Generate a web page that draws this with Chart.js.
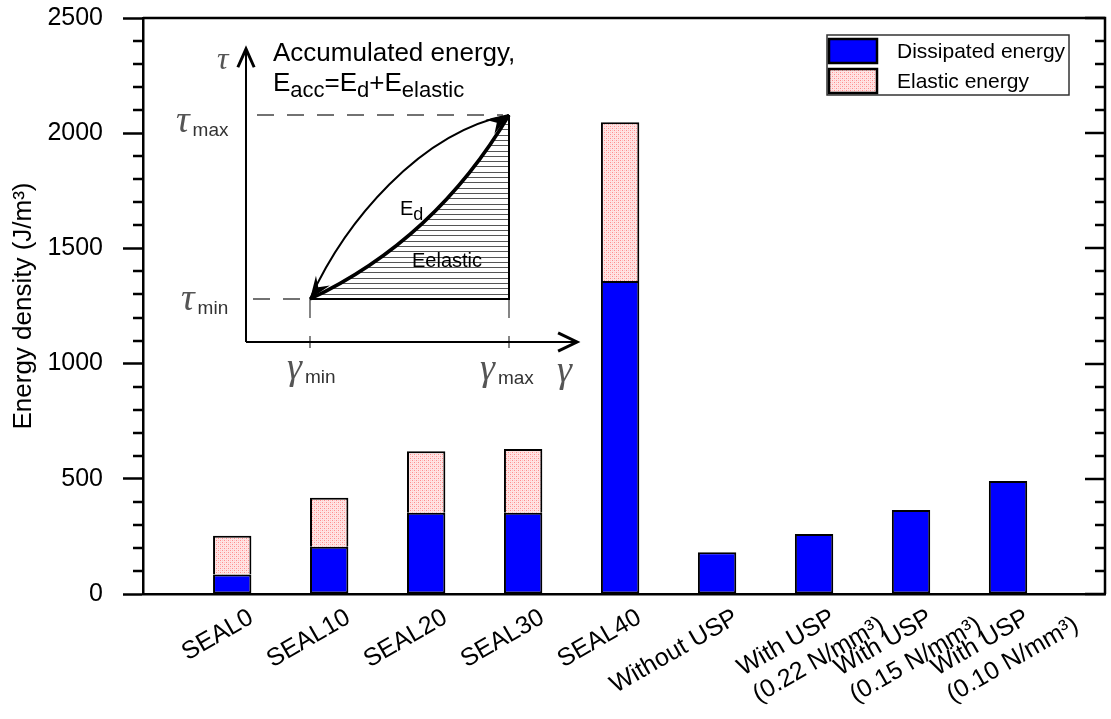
<!DOCTYPE html>
<html>
<head>
<meta charset="utf-8">
<title>Energy density</title>
<script src="https://cdn.jsdelivr.net/npm/chart.js@4/dist/chart.umd.min.js"></script>
<style>
  html, body { margin: 0; padding: 0; background: #fff; }
  #wrap { width: 1111px; height: 719px; }
</style>
</head>
<body>
<div id="wrap"><canvas id="chart" width="1111" height="719"></canvas></div>
<script>
// ---- data ----
const categories = [
  ['SEAL0'], ['SEAL10'], ['SEAL20'], ['SEAL30'], ['SEAL40'],
  ['Without USP'],
  ['With USP', '(0.22 N/mm³)'],
  ['With USP', '(0.15 N/mm³)'],
  ['With USP', '(0.10 N/mm³)']
];
const seriesNames = ['Dissipated energy', 'Elastic energy'];
const dissipated = [85, 205, 353, 353, 1358, 181, 260, 365, 490];
const elastic    = [168, 213, 267, 276, 689, null, null, null, null];
const yTicks = [0, 500, 1000, 1500, 2000, 2500];
const yMinorStep = 100;
const yTitle = 'Energy density (J/m³)';

// ---- styling ----
const FONT = "'Liberation Sans', Arial, Helvetica, sans-serif";
const GREEK = "'Liberation Serif', 'DejaVu Serif', serif";
const AXIS_W = 2.5;

function dotPattern() {
  const c = document.createElement('canvas');
  c.width = 4; c.height = 4;
  const g = c.getContext('2d');
  g.fillStyle = '#ffe4e4'; g.fillRect(0, 0, 4, 4);
  g.fillStyle = '#ff8c8c'; g.fillRect(0, 0, 1, 1); g.fillRect(2, 2, 1, 1);
  g.fillStyle = '#ffc2c2'; g.fillRect(2, 0, 1, 1); g.fillRect(0, 2, 1, 1);
  return g.createPattern(c, 'repeat');
}

const barStyle = {
  borderColor: '#000',
  borderWidth: 2,
  barPercentage: 0.43,
  categoryPercentage: 1
};

// ---- frame: top/right edges, minor ticks, mirrored ticks ----
const framePlugin = {
  id: 'frame',
  afterDraw(chart) {
    const { ctx, chartArea: a, scales: { y } } = chart;
    ctx.save();
    ctx.strokeStyle = '#000';
    ctx.lineWidth = AXIS_W;
    ctx.beginPath();
    ctx.moveTo(a.left, a.top); ctx.lineTo(a.right, a.top); ctx.lineTo(a.right, a.bottom);
    ctx.stroke();
    const major = new Set(yTicks);
    for (let v = y.min; v <= y.max; v += yMinorStep) {
      const py = Math.round(y.getPixelForValue(v));
      const isMajor = major.has(v);
      ctx.beginPath();
      if (!isMajor) { ctx.moveTo(a.left - 10, py); ctx.lineTo(a.left, py); }
      ctx.moveTo(a.right - (isMajor ? 20 : 10), py); ctx.lineTo(a.right, py);
      ctx.stroke();
    }
    ctx.restore();
  }
};

// ---- rotated category labels (lines left-aligned) ----
const categoryLabels = {
  id: 'categoryLabels',
  afterDraw(chart) {
    const { ctx, chartArea: a, scales: { x } } = chart;
    ctx.save();
    ctx.fillStyle = '#000';
    ctx.font = '25px ' + FONT;
    ctx.textAlign = 'left';
    ctx.textBaseline = 'top';
    categories.forEach((lines, i) => {
      const px = x.getPixelForValue(i + 1);
      ctx.save();
      ctx.translate(px + 13, a.bottom + 11);
      ctx.rotate(-30 * Math.PI / 180);
      const w1 = ctx.measureText(lines[0]).width;
      lines.forEach((t, j) => ctx.fillText(t, -w1, j * 31));
      ctx.restore();
    });
    ctx.restore();
  }
};

// ---- legend box ----
const legendPlugin = {
  id: 'boxLegend',
  afterDraw(chart) {
    const { ctx } = chart;
    const bx = 827, by = 35, bw = 242, bh = 60;
    ctx.save();
    ctx.fillStyle = '#fff';
    ctx.fillRect(bx, by, bw, bh);
    ctx.strokeStyle = '#333';
    ctx.lineWidth = 1.5;
    ctx.strokeRect(bx, by, bw, bh);
    chart.data.datasets.forEach((ds, i) => {
      const sy = by + 4 + i * 30;
      ctx.fillStyle = ds.backgroundColor;
      ctx.fillRect(bx + 2, sy, 48, 24);
      ctx.strokeStyle = '#000';
      ctx.lineWidth = 2.5;
      ctx.strokeRect(bx + 2, sy, 48, 24);
      ctx.fillStyle = '#000';
      ctx.font = '21px ' + FONT;
      ctx.textAlign = 'left';
      ctx.textBaseline = 'middle';
      ctx.fillText(ds.label, bx + 70, sy + 13);
    });
    ctx.restore();
  }
};

// ---- inset schematic of a loading/unloading loop ----
function textRuns(ctx, x, y, parts) {
  for (const [t, size, dy, fam] of parts) {
    ctx.font = size + 'px ' + (fam || FONT);
    ctx.fillText(t, x, y + dy);
    x += ctx.measureText(t).width;
  }
  return x;
}
function greekWithSub(ctx, x, y, g, sub) {
  ctx.fillStyle = '#555';
  ctx.font = 'italic 38px ' + GREEK;
  ctx.fillText(g, x, y);
  const w = ctx.measureText(g).width;
  ctx.fillStyle = '#333';
  ctx.font = '19px ' + FONT;
  ctx.fillText(sub, x + w + 3, y + 4);
}
function chevron(ctx, tx, ty, ang, len, half) {
  ctx.beginPath();
  ctx.moveTo(tx - len * Math.cos(ang - half), ty - len * Math.sin(ang - half));
  ctx.lineTo(tx, ty);
  ctx.lineTo(tx - len * Math.cos(ang + half), ty - len * Math.sin(ang + half));
  ctx.stroke();
}
function headFilled(ctx, tx, ty, ang, len, half) {
  ctx.beginPath();
  ctx.moveTo(tx, ty);
  ctx.lineTo(tx - len * Math.cos(ang - half), ty - len * Math.sin(ang - half));
  ctx.lineTo(tx - len * 0.6 * Math.cos(ang), ty - len * 0.6 * Math.sin(ang));
  ctx.lineTo(tx - len * Math.cos(ang + half), ty - len * Math.sin(ang + half));
  ctx.closePath();
  ctx.fill();
}

const insetPlugin = {
  id: 'inset',
  afterDraw(chart) {
    const ctx = chart.ctx;
    const O = { x: 246, y: 342 };          // inset origin
    const A = { x: 310, y: 299 };          // (γmin, τmin)
    const B = { x: 509, y: 115 };          // (γmax, τmax)
    const low = { x: 435, y: 240 };        // loading branch control
    const up1 = { x: 345, y: 222 }, up2 = { x: 420, y: 132 }; // unloading branch controls
    ctx.save();

    // hatched elastic area
    ctx.save();
    ctx.beginPath();
    ctx.moveTo(A.x, A.y);
    ctx.quadraticCurveTo(low.x, low.y, B.x, B.y);
    ctx.lineTo(B.x, A.y);
    ctx.closePath();
    ctx.clip();
    ctx.strokeStyle = '#555';
    ctx.lineWidth = 1;
    for (let yy = A.y - 5.3; yy > B.y; yy -= 5.3) {
      ctx.beginPath(); ctx.moveTo(A.x, Math.round(yy) + 0.5); ctx.lineTo(B.x, Math.round(yy) + 0.5); ctx.stroke();
    }
    ctx.restore();

    // dashed guides
    ctx.strokeStyle = '#444';
    ctx.lineWidth = 1.3;
    ctx.setLineDash([17, 13]);
    ctx.beginPath(); ctx.moveTo(257, B.y); ctx.lineTo(B.x - 6, B.y); ctx.stroke();
    ctx.beginPath(); ctx.moveTo(253, A.y); ctx.lineTo(A.x, A.y); ctx.stroke();
    ctx.setLineDash([19, 18]);
    ctx.beginPath(); ctx.moveTo(A.x, A.y); ctx.lineTo(A.x, O.y + 6); ctx.stroke();
    ctx.beginPath(); ctx.moveTo(B.x, A.y); ctx.lineTo(B.x, O.y + 6); ctx.stroke();
    ctx.setLineDash([]);

    // area edges
    ctx.strokeStyle = '#000';
    ctx.lineWidth = 2;
    ctx.beginPath(); ctx.moveTo(A.x, A.y); ctx.lineTo(B.x, A.y); ctx.lineTo(B.x, B.y); ctx.stroke();

    // loading branch (thick) and unloading branch
    ctx.lineWidth = 3.5;
    ctx.beginPath(); ctx.moveTo(A.x, A.y); ctx.quadraticCurveTo(low.x, low.y, B.x, B.y); ctx.stroke();
    ctx.lineWidth = 2;
    ctx.beginPath(); ctx.moveTo(B.x, B.y); ctx.bezierCurveTo(up2.x, up2.y, up1.x, up1.y, A.x, A.y); ctx.stroke();
    ctx.fillStyle = '#000';
    headFilled(ctx, B.x, B.y, -32 * Math.PI / 180, 24, 0.36);
    headFilled(ctx, A.x, A.y, 125 * Math.PI / 180, 24, 0.36);

    // axes with open arrowheads
    ctx.lineWidth = 2;
    ctx.beginPath(); ctx.moveTo(O.x, O.y); ctx.lineTo(O.x, 50); ctx.stroke();
    ctx.beginPath(); ctx.moveTo(O.x, O.y); ctx.lineTo(576, O.y); ctx.stroke();
    ctx.lineWidth = 3;
    chevron(ctx, O.x, 49, -Math.PI / 2, 20, 0.42);
    chevron(ctx, 577, O.y, 0, 21, 0.45);

    // text
    ctx.fillStyle = '#000';
    ctx.textAlign = 'left';
    ctx.textBaseline = 'alphabetic';
    textRuns(ctx, 273, 61, [['Accumulated energy,', 26, 0]]);
    textRuns(ctx, 273, 91, [['E', 26, 0], ['acc', 22, 6], ['=E', 26, 0], ['d', 22, 6], ['+E', 26, 0], ['elastic', 22, 6]]);
    textRuns(ctx, 400, 215, [['E', 20, 0], ['d', 18, 5]]);
    textRuns(ctx, 412, 267, [['Eelastic', 20, 0]]);

    greekWithSub(ctx, 176, 132, 'τ', 'max');
    greekWithSub(ctx, 181, 310, 'τ', 'min');
    greekWithSub(ctx, 287, 379, 'γ', 'min');
    greekWithSub(ctx, 480, 380, 'γ', 'max');
    ctx.fillStyle = '#555';
    ctx.font = 'italic 38px ' + GREEK;
    ctx.fillText('γ', 557, 382);
    ctx.font = 'italic 32px ' + GREEK;
    ctx.fillText('τ', 217, 69);
    ctx.restore();
  }
};

// ---- chart ----
const pink = dotPattern();
new Chart(document.getElementById('chart'), {
  type: 'bar',
  data: {
    datasets: [
      Object.assign({
        label: seriesNames[0],
        data: dissipated.map((v, i) => ({ x: i + 1, y: v })),
        backgroundColor: '#0000ff',
        borderSkipped: false
      }, barStyle),
      Object.assign({
        label: seriesNames[1],
        data: elastic.map((v, i) => ({ x: i + 1, y: v })),
        backgroundColor: pink,
        borderSkipped: 'start'
      }, barStyle)
    ]
  },
  options: {
    responsive: false,
    devicePixelRatio: 1,
    animation: false,
    layout: { padding: { top: 18, right: 6, left: 0, bottom: 0 } },
    plugins: { legend: { display: false }, tooltip: { enabled: false } },
    scales: {
      x: {
        type: 'linear',
        min: 0.08,
        max: 10,
        stacked: true,
        offset: false,
        ticks: { display: false },
        grid: { display: false, drawTicks: false },
        border: { display: true, color: '#000', width: AXIS_W },
        afterFit: s => { s.height = 125; s.paddingLeft = 0; s.paddingRight = 0; }
      },
      y: {
        min: yTicks[0],
        max: yTicks[yTicks.length - 1],
        stacked: true,
        afterBuildTicks: s => { s.ticks = yTicks.map(v => ({ value: v })); },
        ticks: { color: '#000', font: { family: FONT, size: 25 }, padding: 20, callback: v => String(v) },
        grid: { display: true, drawOnChartArea: false, drawTicks: true, tickLength: 20, tickWidth: AXIS_W, tickColor: '#000' },
        border: { display: true, color: '#000', width: AXIS_W },
        title: { display: true, text: yTitle, color: '#000', font: { family: FONT, size: 26 }, padding: { top: 8, bottom: 0 } },
        afterFit: s => { s.width = 143; s.paddingTop = 0; s.paddingBottom = 0; }
      }
    }
  },
  plugins: [framePlugin, categoryLabels, legendPlugin, insetPlugin]
});
</script>
</body>
</html>
